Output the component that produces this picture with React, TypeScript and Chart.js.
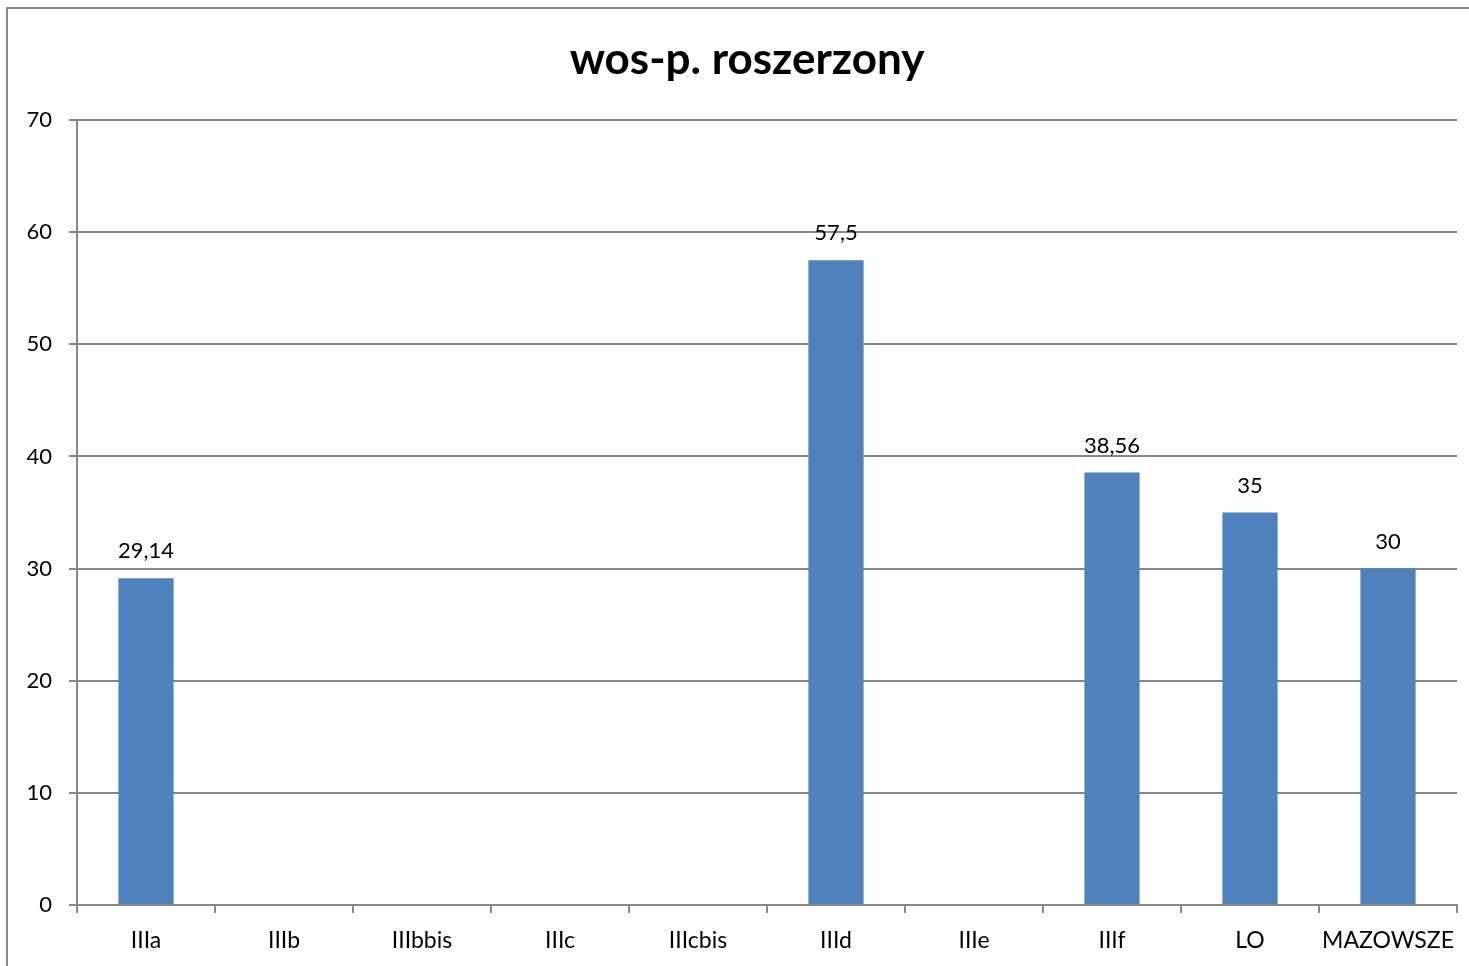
import React, { useEffect, useRef } from "react";
import { Chart, registerables } from "chart.js";

Chart.register(...registerables);

const titleText = "wos-p. roszerzony";
const categories = ["IIIa", "IIIb", "IIIbbis", "IIIc", "IIIcbis", "IIId", "IIIe", "IIIf", "LO", "MAZOWSZE"];
const values: (number | null)[] = [29.14, null, null, null, null, 57.5, null, 38.56, 35, 30];
const yMin = 0;
const yMax = 70;
const yStep = 10;

const FONT = "Lato, 'Open Sans', sans-serif";
const GRID = "#878787";
const BAR = "#4F81BD";

const valueLabels = {
  id: "valueLabels",
  afterDatasetsDraw(chart: any) {
    const { ctx } = chart;
    const meta = chart.getDatasetMeta(0);
    ctx.save();
    ctx.font = `22px ${FONT}`;
    ctx.fillStyle = "#000";
    ctx.textAlign = "center";
    ctx.textBaseline = "middle";
    meta.data.forEach((el: any, i: number) => {
      const v = values[i];
      if (v === null || v === undefined) return;
      const txt = String(v).replace(".", ",");
      ctx.fillText(txt, el.x, el.y - 27);
    });
    ctx.restore();
  },
};

const chartTitle = {
  id: "chartTitle",
  afterDraw(chart: any) {
    const { ctx } = chart;
    ctx.save();
    ctx.font = `bold 44px ${FONT}`;
    ctx.fillStyle = "#000";
    ctx.textAlign = "center";
    ctx.textBaseline = "middle";
    ctx.fillText(titleText, 747, 60);
    ctx.restore();
  },
};

export default function App() {
  const ref = useRef<HTMLCanvasElement | null>(null);
  useEffect(() => {
    if (!ref.current) return;
    const chart = new Chart(ref.current, {
      type: "bar",
      data: {
        labels: categories,
        datasets: [
          {
            data: values,
            backgroundColor: BAR,
            borderWidth: 0,
            barPercentage: 0.4,
            categoryPercentage: 1,
          },
        ],
      },
      options: {
        animation: false,
        responsive: false,
        maintainAspectRatio: false,
        layout: { padding: { left: 0, right: 12, top: 120, bottom: 0 } },
        plugins: {
          legend: { display: false },
          tooltip: { enabled: false },
          title: { display: false },
        },
        scales: {
          x: {
            grid: {
              display: true,
              drawOnChartArea: false,
              drawTicks: true,
              tickLength: 8,
              color: GRID,
              lineWidth: 2,
              offset: true,
            },
            border: { display: true, color: GRID, width: 2 },
            ticks: {
              color: "#000",
              font: { family: FONT, size: 23 },
              padding: 14,
              maxRotation: 0,
              autoSkip: false,
            },
            afterFit(scale: any) {
              scale.height = 61;
            },
          },
          y: {
            min: yMin,
            max: yMax,
            grid: {
              color: GRID,
              lineWidth: 2,
              drawTicks: true,
              tickLength: 8,
            },
            border: { display: true, color: GRID, width: 2 },
            ticks: {
              stepSize: yStep,
              color: "#000",
              font: { family: FONT, size: 22 },
              padding: 17,
            },
            afterFit(scale: any) {
              scale.width = 77;
            },
          },
        },
      },
      plugins: [valueLabels, chartTitle],
    });
    return () => chart.destroy();
  }, []);

  return (
    <div
      style={{
        position: "absolute",
        left: 0,
        top: 0,
        width: 1469,
        height: 966,
        overflow: "hidden",
        background: "#fff",
      }}
    >
      <div
        style={{
          position: "absolute",
          left: 6,
          top: 7,
          width: 1490,
          height: 990,
          border: "2px solid #898989",
          boxSizing: "border-box",
        }}
      />
      <canvas
        ref={ref}
        width={1469}
        height={966}
        style={{ position: "absolute", left: 0, top: 0, width: 1469, height: 966 }}
      />
    </div>
  );
}
